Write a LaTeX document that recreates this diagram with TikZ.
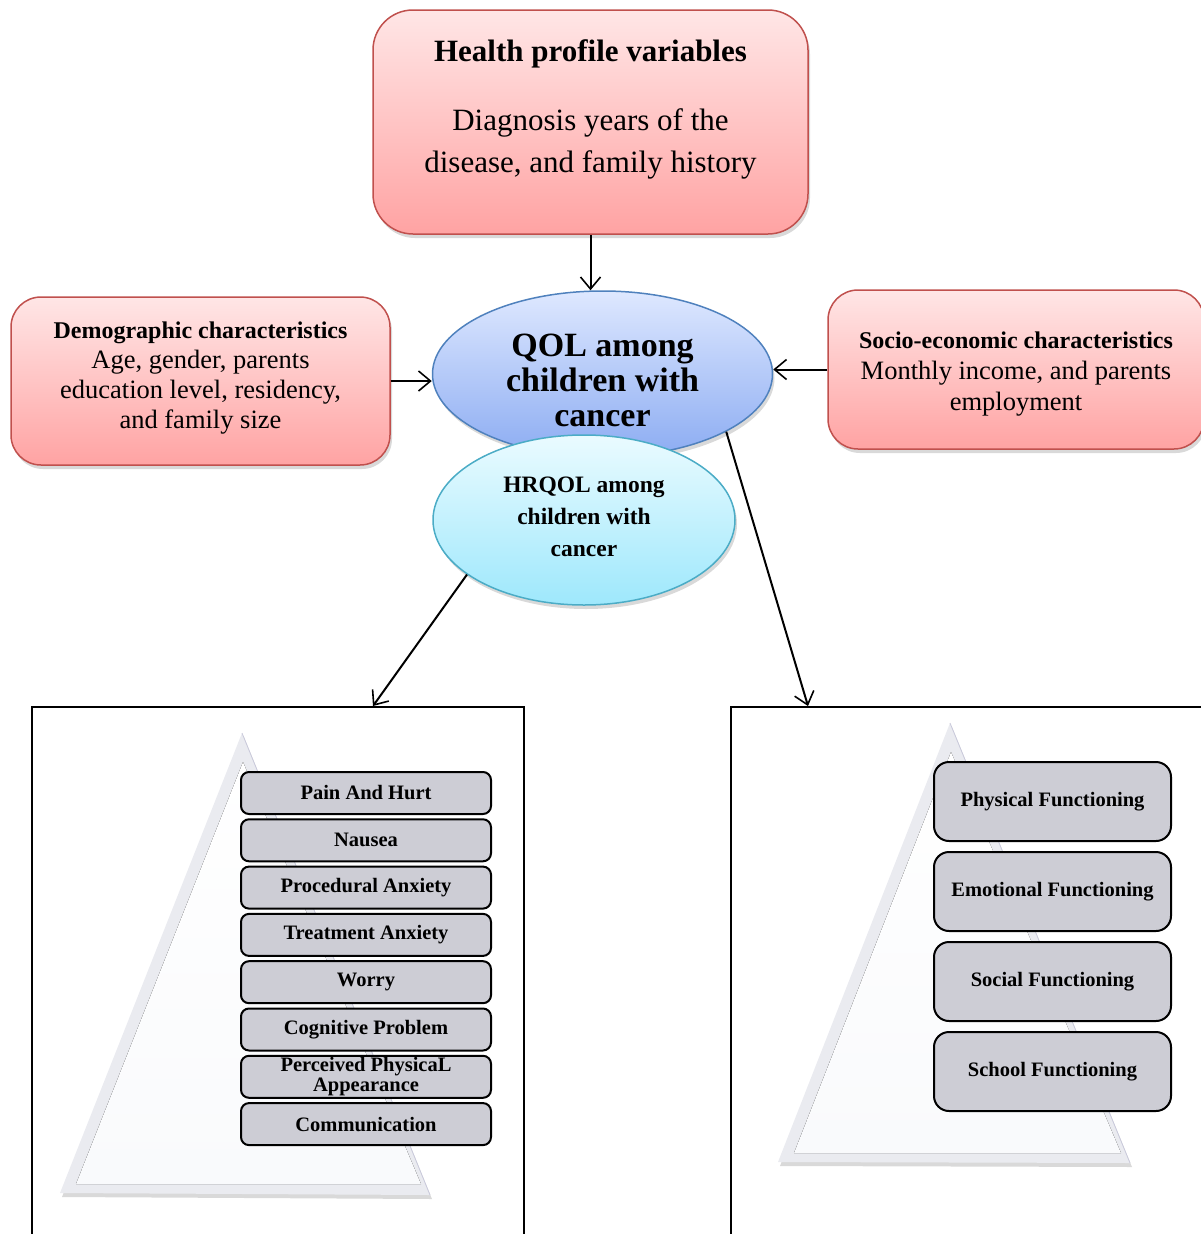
\documentclass[tikz,border=0pt]{standalone}
\usepackage{fontspec}
\setmainfont{Liberation Serif}
\usetikzlibrary{arrows.meta,shapes.geometric,shadows}
\tikzset{>={Straight Barb[length=12pt,width=20pt,line width=1.6pt]}}
\definecolor{redline}{RGB}{192,80,77}
\definecolor{redtop}{RGB}{255,230,230}
\definecolor{redbot}{RGB}{255,163,163}
\definecolor{blueline}{RGB}{79,129,189}
\definecolor{bluetop}{RGB}{222,232,255}
\definecolor{bluebot}{RGB}{140,172,242}
\definecolor{cyanline}{RGB}{75,172,198}
\definecolor{cyantop}{RGB}{234,251,255}
\definecolor{cyanbot}{RGB}{158,232,252}
\definecolor{itemgray}{RGB}{205,205,213}
\definecolor{pyredge}{RGB}{234,235,240}
\definecolor{pyrface}{RGB}{249,250,252}
\colorlet{pyrline}{blue!20!gray!35}
\newcommand{\dropby}[1]{\rule[-#1]{0pt}{#1}}
\newcommand{\liftby}[1]{\rule{0pt}{#1}}
\tikzstyle{softshadow}=[drop shadow={opacity=0.3,shadow xshift=2pt,shadow yshift=-4pt}]
\tikzstyle{varbox}=[draw=redline,line width=1.5pt,top color=redtop,bottom color=redbot,align=center,softshadow]
\tikzstyle{qolell}=[ellipse,draw=blueline,line width=1.5pt,top color=bluetop,bottom color=bluebot,align=center,inner sep=0pt,softshadow]
\tikzstyle{hrqolell}=[ellipse,draw=cyanline,line width=1.5pt,top color=cyantop,bottom color=cyanbot,align=center,inner sep=0pt,softshadow]
\tikzstyle{item}=[draw=black,line width=2pt,fill=itemgray,align=center,inner sep=0pt,font=\bfseries\fontsize{20.5}{20}\selectfont]
\tikzstyle{panel}=[draw=black,line width=1.5pt,anchor=north west,inner sep=0pt]
\tikzstyle{link}=[->,line width=2pt]

\begin{document}
\begin{tikzpicture}[x=1pt,y=-1pt]
  \def\LW{250}     % left item width
  \def\LH{42}      % left item height
  \def\LP{47.3}    % left item pitch
  \def\RW{237}     % right item width
  \def\RH{79}      % right item height
  \def\RP{90}      % right item pitch
  \useasboundingbox (0,0) rectangle (1201,1234);
  \clip (0,0) rectangle (1201,1234);

  % VARIABLE BOXES
  \node[varbox,rounded corners=40pt,minimum width=435pt,minimum height=224pt,font=\fontsize{31}{42}\selectfont] (health) at (590.5,122)
    {\textbf{Health profile variables}\\[27pt]
     Diagnosis years of the\\disease, and family history\dropby{31pt}};
  \node[varbox,rounded corners=30pt,minimum width=379pt,minimum height=168pt,font=\fontsize{26.5}{30}\selectfont] (demo) at (200.5,381)
    {{\fontsize{24}{30}\selectfont\bfseries Demographic characteristics}\\
     Age, gender, parents\\education level, residency,\\and family size\dropby{12pt}};
  \node[varbox,rounded corners=30pt,minimum width=376pt,minimum height=159pt,font=\fontsize{26.5}{31}\selectfont] (socio) at (1016,369.5)
    {\liftby{26pt}{\fontsize{24}{30}\selectfont\bfseries Socio-economic characteristics}\\
     Monthly income, and parents\\employment};

  % QOL + HRQOL
  \node[qolell,minimum width=340pt,minimum height=166pt,font=\bfseries\fontsize{34}{35}\selectfont] (qol) at (602.5,374)
    {\liftby{36pt}QOL among\\children with\\cancer};
  \node[hrqolell,minimum width=302pt,minimum height=170pt,font=\bfseries\fontsize{23.5}{32}\selectfont] (hrqol) at (584,520)
    {HRQOL among\\children with\\cancer\dropby{7pt}};

  % PANELS
  \node[panel,minimum width=492pt,minimum height=560pt] (leftpanel) at (31,706) {};
  \node[panel,minimum width=480pt,minimum height=560pt] (rightpanel) at (730,706) {};
  \coordinate (leftin) at (373,706);
  \coordinate (rightin) at (808,706);

  % PYRAMIDS
  \fill[pyredge,softshadow] (242,733) -- (430,1195) -- (60,1193) -- cycle;
  \fill[top color=white,bottom color=pyrface] (243,762) -- (421,1184) -- (76,1184) -- cycle;
  \draw[pyrline,line width=0.8pt] (242,733) -- (430,1195);
  \fill[pyredge,softshadow] (950,723) -- (1130,1163) -- (778,1162) -- cycle;
  \fill[top color=white,bottom color=pyrface] (951,752) -- (1121,1153) -- (794,1153) -- cycle;
  \draw[pyrline,line width=0.8pt] (950,723) -- (1130,1163);

  % ITEMS
  \foreach \t [count=\i from 0, evaluate={\y=793+\LP*\i;}] in
    {Pain And Hurt,Nausea,Procedural Anxiety,Treatment Anxiety,Worry,Cognitive Problem,
     {Perceived PhysicaL\\Appearance},Communication}{
    \node[item,rounded corners=8pt,minimum width=\LW pt,minimum height=\LH pt] (left\i) at (366,\y) {\t};
  }
  \foreach \t [count=\i from 0, evaluate={\y=801.5+\RP*\i;}] in
    {Physical Functioning,Emotional Functioning,Social Functioning,School Functioning}{
    \node[item,rounded corners=15pt,minimum width=\RW pt,minimum height=\RH pt,font=\bfseries\fontsize{20.5}{22}\selectfont] (right\i) at (1052.5,\y) {\t};
  }

  % CONNECTORS
  \draw[link] (health.south) -- (health.south |- qol.north);
  \draw[link] (demo.east) -- (demo.east -| qol.west);
  \draw[link] (socio.west) -- (socio.west -| qol.east);
  \draw[link] (hrqol.205) -- (leftin);
  \draw[link] (qol.-25) -- (rightin);

\end{tikzpicture}
\end{document}
